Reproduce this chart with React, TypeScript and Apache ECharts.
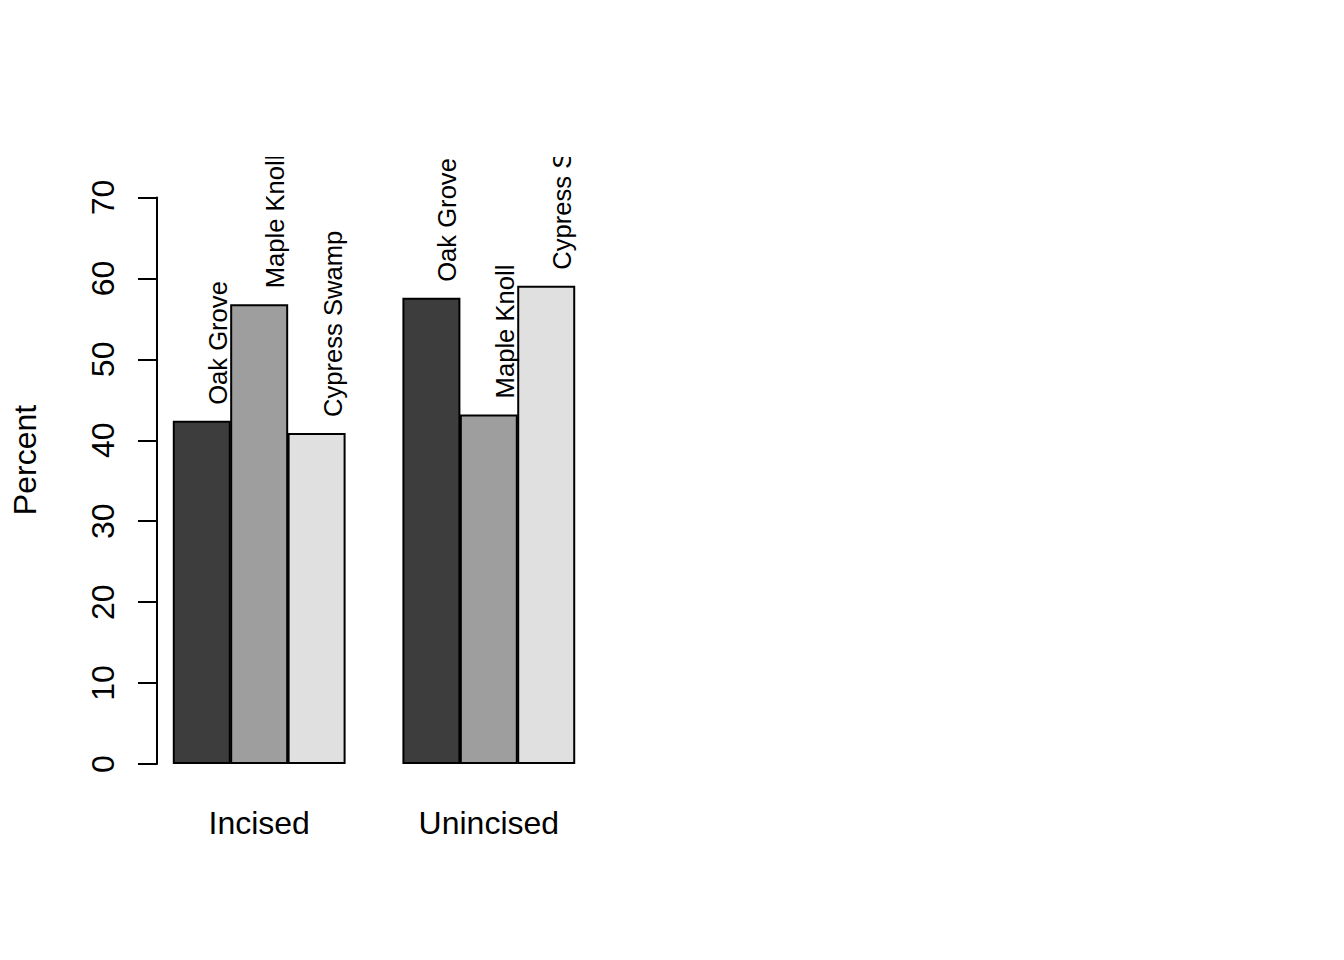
import React, { useEffect, useRef } from "react";
import * as echarts from "echarts";

const groups = ["Incised", "Unincised"];
const sites = ["Oak Grove", "Maple Knoll", "Cypress Swamp"];
const incisedValues = [42.4, 56.8, 40.9];
const unincisedValues = [57.6, 43.2, 59.1];
const siteColors = ["#3d3d3d", "#9e9e9e", "#e0e0e0"];
const yMin = 0;
const yMax = 70;
const yStep = 10;

const FONT = "'Liberation Sans', Arial, Helvetica, sans-serif";

export default function App() {
  const ref = useRef<HTMLDivElement>(null);

  useEffect(() => {
    if (!ref.current) return;
    const chart = echarts.init(ref.current, undefined, { renderer: "svg" });

    const groupValues = [incisedValues, unincisedValues];
    // R barplot(beside=TRUE) layout: bar width 1, space 1 before each group
    const barData: any[] = [];
    groupValues.forEach((vals, g) => {
      vals.forEach((v, s) => {
        barData.push({
          name: sites[s],
          value: [g * 4 + s + 1.5, v],
          itemStyle: { color: siteColors[s] },
        });
      });
    });
    const groupCenters = groups.map((_, g) => g * 4 + 2.5);

    chart.setOption({
      animation: false,
      backgroundColor: "#ffffff",
      textStyle: { fontFamily: FONT },
      grid: { left: 157, right: 753, top: 197.5, bottom: 196, containLabel: false },
      xAxis: {
        type: "value",
        min: 0.72,
        max: 8.28,
        axisLine: { show: false },
        axisTick: { show: false },
        splitLine: { show: false },
        axisLabel: {
          customValues: groupCenters,
          formatter: (v: number) => groups[Math.round((v - 2.5) / 4)] ?? "",
          fontSize: 32,
          color: "#000",
          fontFamily: FONT,
          margin: 43,
        },
      },
      yAxis: {
        type: "value",
        min: yMin,
        max: yMax,
        interval: yStep,
        axisLine: { show: true, lineStyle: { color: "#000", width: 2 } },
        axisTick: { show: true, length: 19, lineStyle: { color: "#000", width: 2 } },
        splitLine: { show: false },
        axisLabel: {
          rotate: 90,
          fontSize: 32,
          color: "#000",
          fontFamily: FONT,
          margin: 38,
        },
      },
      series: [
        {
          type: "bar",
          data: barData,
          barWidth: 58,
          itemStyle: { borderColor: "#000", borderWidth: 2 },
          label: {
            show: true,
            formatter: "{b}",
            position: [45, -16],
            rotate: 90,
            align: "left",
            verticalAlign: "middle",
            fontSize: 25.6,
            color: "#000",
            fontFamily: FONT,
          },
        },
      ],
      graphic: [
        {
          type: "rect",
          z: 100,
          shape: { x: 150, y: 0, width: 470, height: 157 },
          style: { fill: "#ffffff" },
        },
        {
          type: "text",
          x: 25,
          y: 460,
          rotation: Math.PI / 2,
          style: {
            text: "Percent",
            fontSize: 32,
            fontFamily: FONT,
            fill: "#000",
            align: "center",
            verticalAlign: "middle",
          },
        },
      ],
    });

    return () => chart.dispose();
  }, []);

  return (
    <div
      ref={ref}
      style={{ position: "fixed", left: 0, top: 0, width: 1344, height: 960, background: "#fff" }}
    />
  );
}
